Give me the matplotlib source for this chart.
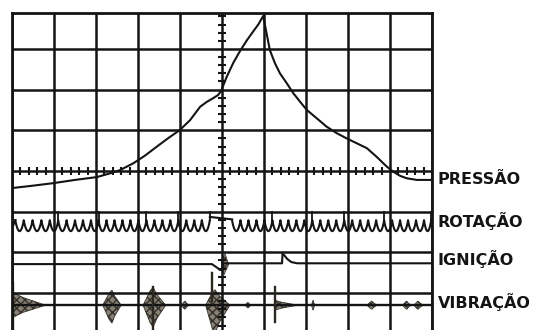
import numpy as np
import matplotlib
matplotlib.use("Agg")
import matplotlib.pyplot as plt
from matplotlib.patches import Polygon

# ---------------- data (graticule divisions: x 0..10, y counted downward) ----------------
pressure_x = [0.00, 0.43, 0.98, 1.50, 2.02, 2.33, 2.57, 2.89, 3.17, 3.45, 3.71, 4.00,
              4.24, 4.48, 4.64, 4.79, 4.91, 4.98, 5.11, 5.27, 5.43, 5.59, 5.75, 5.87,
              5.98, 6.06, 6.14, 6.26, 6.38, 6.54, 6.70, 6.86, 7.02, 7.25, 7.49, 7.73,
              7.97, 8.21, 8.45, 8.68, 8.84, 8.92, 9.08, 9.24, 9.40, 9.64, 10.00]
pressure_y = [4.42, 4.37, 4.30, 4.22, 4.15, 4.06, 3.98, 3.81, 3.62, 3.40, 3.20, 2.99,
              2.75, 2.42, 2.30, 2.21, 2.13, 2.03, 1.69, 1.34, 1.05, 0.79, 0.56, 0.39,
              0.19, 0.61, 1.03, 1.35, 1.60, 1.84, 2.09, 2.30, 2.50, 2.70, 2.91, 3.07,
              3.20, 3.32, 3.44, 3.65, 3.81, 3.89, 4.02, 4.12, 4.18, 4.22, 4.22]

rotation_cusps_left = [0.08, 0.28, 0.49, 0.70, 0.90, 1.10, 1.30, 1.50, 1.69, 1.88, 2.06,
                       2.25, 2.44, 2.63, 2.82, 3.01, 3.20, 3.39, 3.58, 3.77, 3.96, 4.15,
                       4.34, 4.52, 4.71]
rotation_cusps_right = [5.24, 5.44, 5.63, 5.82, 6.01, 6.20, 6.39, 6.58, 6.77, 6.96, 7.15,
                        7.34, 7.53, 7.72, 7.91, 8.10, 8.29, 8.48, 8.67, 8.86, 9.05, 9.24,
                        9.43, 9.62, 9.81, 9.98]
rotation_tall = [1.10, 2.06, 3.20, 3.96, 4.71, 6.20, 7.15, 7.91, 8.86, 9.98]
rotation_level = 5.21      # cusp level
rotation_depth = 0.27      # arc depth
rotation_tall_top = 5.02

ignition_x = [0.00, 4.76, 4.86, 4.95, 5.00, 5.02, 6.43, 6.44, 6.48, 6.55, 6.65, 6.79, 10.00]
ignition_y = [6.29, 6.29, 6.36, 6.43, 6.44, 6.27, 6.27, 6.04, 6.07, 6.16, 6.24, 6.27, 6.27]

vibration_level = 7.30
vib_center = [0.02, 2.38, 3.36, 4.12, 4.83, 5.62, 6.26, 7.17, 8.57, 9.40, 9.67]
vib_left   = [0.00, 0.22, 0.24, 0.09, 0.22, 0.07, 0.02, 0.04, 0.12, 0.10, 0.10]
vib_right  = [0.78, 0.22, 0.30, 0.09, 0.36, 0.07, 0.55, 0.04, 0.12, 0.10, 0.12]
vib_up     = [0.32, 0.37, 0.44, 0.10, 0.38, 0.07, 0.12, 0.12, 0.10, 0.10, 0.10]
vib_down   = [0.30, 0.44, 0.54, 0.10, 0.70, 0.07, 0.12, 0.12, 0.10, 0.10, 0.10]
vib_spike_x      = [0.03, 3.36, 4.76, 6.26]
vib_spike_top    = [6.75, 6.85, 6.51, 6.85]
vib_spike_bottom = [8.00, 7.90, 7.20, 7.71]

labels = ["PRESSÃO", "ROTAÇÃO", "IGNIÇÃO", "VIBRAÇÃO"]
label_y = [4.22, 5.24, 6.17, 7.23]

# ---------------- figure ----------------
W, H = 539, 330
fig = plt.figure(figsize=(W / 100, H / 100), dpi=100, facecolor="white")
ax = fig.add_axes([12 / W, 0, 420 / W, 317 / H])
ax.set_xlim(0, 10)
ax.set_ylim(7.91, 0.116)
ax.set_facecolor("white")

ink = "#141414"
lw_grid = 1.8
ax.set_xticks(range(11))
ax.set_yticks(range(1, 8))
ax.grid(True, color=ink, lw=lw_grid)
ax.tick_params(length=0, labelbottom=False, labelleft=False)
for s in ("top", "left", "right"):
    ax.spines[s].set_color(ink)
    ax.spines[s].set_linewidth(lw_grid + 0.2)
ax.spines["bottom"].set_visible(False)

# graticule minor ticks on the centre axes
for xv in np.arange(0.2, 10, 0.2):
    if abs(xv - round(xv)) > 0.05:
        ax.plot([xv, xv], [3.90, 4.10], color=ink, lw=1.5, solid_capstyle="butt")
for yv in np.arange(0.2, 7.95, 0.2):
    if abs(yv - round(yv)) > 0.05:
        ax.plot([4.905, 5.095], [yv, yv], color=ink, lw=1.5, solid_capstyle="butt")

# pressure trace
ax.plot(pressure_x, pressure_y, color=ink, lw=1.5, solid_joinstyle="round")

# rotation trace
def arcs(cusps):
    xs, ys = [], []
    for a, b in zip(cusps[:-1], cusps[1:]):
        t = np.linspace(0, 1, 14)
        xs.extend(a + (b - a) * t)
        ys.extend(rotation_level + rotation_depth * np.sin(np.pi * t) ** 0.8)
    return xs, ys

for part in (rotation_cusps_left, rotation_cusps_right):
    xs, ys = arcs(part)
    ax.plot(xs, ys, color=ink, lw=1.5)
ax.plot([rotation_cusps_left[-1], rotation_cusps_right[0]],
        [rotation_level - 0.08, rotation_level - 0.02], color=ink, lw=1.5)
ax.plot([0, rotation_cusps_left[0]], [rotation_level + 0.2, rotation_level], color=ink, lw=1.5)
for xv in rotation_tall:
    ax.plot([xv, xv], [rotation_level, rotation_tall_top], color=ink, lw=1.3)

# ignition trace
ax.plot(ignition_x, ignition_y, color=ink, lw=1.5)
ax.add_patch(Polygon([[4.98, 6.25], [5.07, 6.02], [5.16, 6.30], [5.05, 6.55]],
                     closed=True, facecolor="#7a7366", edgecolor="#3a352d", lw=0.5,
                     hatch="xxxx", alpha=0.9))

# vibration trace
ax.plot([0, 10], [vibration_level, vibration_level], color=ink, lw=1.7)
for c, l, r, u, d in zip(vib_center, vib_left, vib_right, vib_up, vib_down):
    pts = [[c - l, vibration_level], [c - 0.3 * l, vibration_level - 0.8 * u],
           [c, vibration_level - u], [c + 0.3 * r, vibration_level - 0.6 * u],
           [c + r, vibration_level], [c + 0.3 * r, vibration_level + 0.6 * d],
           [c, vibration_level + d], [c - 0.3 * l, vibration_level + 0.8 * d]]
    ax.add_patch(Polygon(pts, closed=True, facecolor="#7a7366", edgecolor="#2b2721",
                         lw=0.6, hatch="xxxx", alpha=0.9))
for xv, t, b in zip(vib_spike_x, vib_spike_top, vib_spike_bottom):
    ax.plot([xv, xv], [t, b], color="#2b2721", lw=1.7)

# labels
for txt, yv in zip(labels, label_y):
    ax.text(10.14, yv, txt, fontsize=11.5, fontweight="bold", color=ink,
            va="center", ha="left", clip_on=False)

fig.savefig("out.png", dpi=100, facecolor="white")
